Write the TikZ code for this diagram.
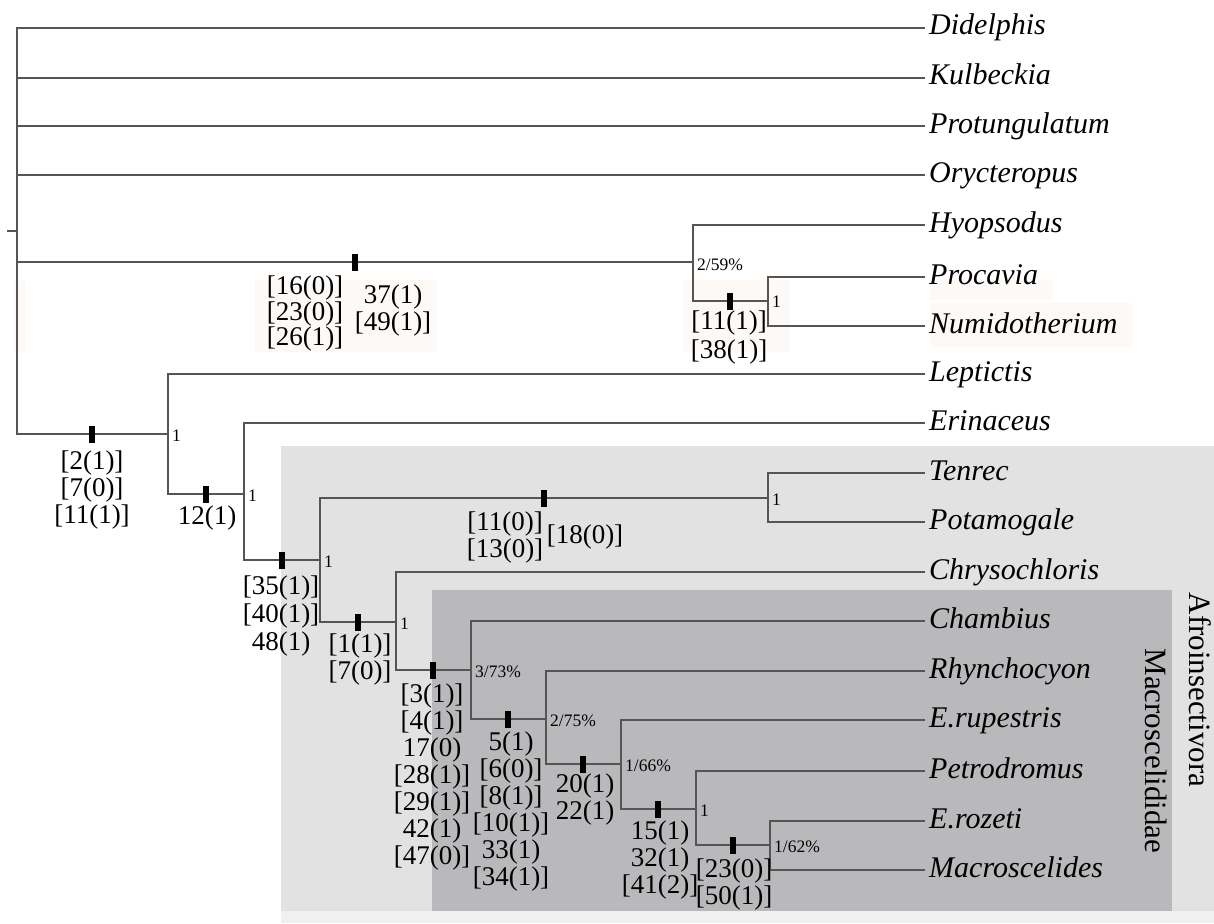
\documentclass[tikz,border=0pt]{standalone}
\usepackage{fontspec}
\setmainfont{Liberation Serif}
\definecolor{linec}{RGB}{85,85,85}
\definecolor{afro}{RGB}{226,226,226}
\definecolor{afrolow}{RGB}{240,240,240}
\definecolor{macro}{RGB}{185,185,187}
\definecolor{hl}{RGB}{253,249,247}
\begin{document}
\begin{tikzpicture}[x=1pt,y=-1pt,
  br/.style={draw=linec, line width=1.4pt},
  mk/.style={fill=black, inner sep=0pt, minimum width=6pt, minimum height=17pt},
  taxon/.style={anchor=west, inner ysep=0pt, inner xsep=4pt, text height=20pt, text depth=6pt, font=\fontsize{30}{30}\selectfont\itshape},
  chr/.style={anchor=north, inner sep=0pt, align=center, font=\fontsize{27}{27}\selectfont},
  sup/.style={anchor=west, inner sep=0pt, font=\fontsize{17.5}{17.5}\selectfont},
  clade/.style={inner sep=0pt, rotate=-90, font=\fontsize{31}{31}\selectfont}]
\useasboundingbox (0,0) rectangle (1214,923);
% backgrounds
\fill[afro] (281,446) rectangle (1214,911);
\fill[afrolow] (281,911) rectangle (1214,923);
\fill[macro] (432,590) rectangle (1172,911);
\fill[hl] (255,280) rectangle (437,352);
\fill[hl] (14,280) rectangle (25,352);
\fill[hl] (683,280) rectangle (790,352);
\fill[hl] (930,280) rectangle (1053,300);
\fill[hl] (930,303) rectangle (1133,347);
% taxa
\node[taxon] (didelphis) at (925,28) {Didelphis};
\node[taxon] (kulbeckia) at (925,78) {Kulbeckia};
\node[taxon] (protungulatum) at (925,126) {Protungulatum};
\node[taxon] (orycteropus) at (925,175) {Orycteropus};
\node[taxon] (hyopsodus) at (925,225) {Hyopsodus};
\node[taxon] (procavia) at (925,277) {Procavia};
\node[taxon] (numidotherium) at (925,326) {Numidotherium};
\node[taxon] (leptictis) at (925,374) {Leptictis};
\node[taxon] (erinaceus) at (925,423) {Erinaceus};
\node[taxon] (tenrec) at (925,473) {Tenrec};
\node[taxon] (potamogale) at (925,522) {Potamogale};
\node[taxon] (chrysochloris) at (925,572) {Chrysochloris};
\node[taxon] (chambius) at (925,621) {Chambius};
\node[taxon] (rhynchocyon) at (925,671) {Rhynchocyon};
\node[taxon] (erupestris) at (925,720) {E.rupestris};
\node[taxon] (petrodromus) at (925,771) {Petrodromus};
\node[taxon] (erozeti) at (925,821) {E.rozeti};
\node[taxon] (macroscelides) at (925,870) {Macroscelides};
% internal nodes
\coordinate (stub) at (7,231);
\coordinate (R) at (17,231);
\coordinate (P1) at (693,262);
\coordinate (P2) at (768,301);
\coordinate (A) at (168,434);
\coordinate (B) at (244,494);
\coordinate (C) at (320,560);
\coordinate (T) at (768,498);
\coordinate (D) at (396,622);
\coordinate (E) at (471,670);
\coordinate (F) at (546,719);
\coordinate (G) at (621,764);
\coordinate (H) at (696,809);
\coordinate (I) at (770,845);
% branches
\draw[br] (stub) -- (R);
\draw[br] (R) |- (didelphis.west);
\draw[br] (R) |- (kulbeckia.west);
\draw[br] (R) |- (protungulatum.west);
\draw[br] (R) |- (orycteropus.west);
\draw[br] (R) |- (P1);
\draw[br] (R) |- (A);
\draw[br] (P1) |- (hyopsodus.west);
\draw[br] (P1) |- (P2);
\draw[br] (P2) |- (procavia.west);
\draw[br] (P2) |- (numidotherium.west);
\draw[br] (A) |- (leptictis.west);
\draw[br] (A) |- (B);
\draw[br] (B) |- (erinaceus.west);
\draw[br] (B) |- (C);
\draw[br] (C) |- (T);
\draw[br] (T) |- (tenrec.west);
\draw[br] (T) |- (potamogale.west);
\draw[br] (C) |- (D);
\draw[br] (D) |- (chrysochloris.west);
\draw[br] (D) |- (E);
\draw[br] (E) |- (chambius.west);
\draw[br] (E) |- (F);
\draw[br] (F) |- (rhynchocyon.west);
\draw[br] (F) |- (G);
\draw[br] (G) |- (erupestris.west);
\draw[br] (G) |- (H);
\draw[br] (H) |- (petrodromus.west);
\draw[br] (H) |- (I);
\draw[br] (I) |- (erozeti.west);
\draw[br] (I) |- (macroscelides.west);
% markers
\node[mk] (m1) at (92,434) {};
\node[mk] (m2) at (355,262) {};
\node[mk] (m3) at (730,301) {};
\node[mk] (m4) at (206,494) {};
\node[mk] (m5) at (282,560) {};
\node[mk] (m6) at (544,498) {};
\node[mk] (m7) at (358,622) {};
\node[mk] (m8) at (433,670) {};
\node[mk] (m9) at (508,719) {};
\node[mk] (m10) at (583,764) {};
\node[mk] (m11) at (658,809) {};
\node[mk] (m12) at (733,845) {};
% character labels
\node[chr] (c1) at (92,451) {[2(1)]\\{}[7(0)]\\{}[11(1)]};
\node[chr, font=\fontsize{27}{25.5}\selectfont] (c2a) at (305,276) {[16(0)]\\{}[23(0)]\\{}[26(1)]};
\node[chr] (c2b) at (393,285) {37(1)\\{}[49(1)]};
\node[chr, font=\fontsize{27}{29}\selectfont] (c3) at (729,311) {[11(1)]\\{}[38(1)]};
\node[chr] (c4) at (207,506) {12(1)};
\node[chr, font=\fontsize{27}{28}\selectfont] (c5) at (281,576) {[35(1)]\\{}[40(1)]\\48(1)};
\node[chr] (c6a) at (505,512) {[11(0)]\\{}[13(0)]};
\node[chr] (c6b) at (585,525) {[18(0)]};
\node[chr] (c7) at (360,634) {[1(1)]\\{}[7(0)]};
\node[chr] (c8) at (432,684) {[3(1)]\\{}[4(1)]\\17(0)\\{}[28(1)]\\{}[29(1)]\\42(1)\\{}[47(0)]};
\node[chr] (c9) at (511,732) {5(1)\\{}[6(0)]\\{}[8(1)]\\{}[10(1)]\\33(1)\\{}[34(1)]};
\node[chr] (c10) at (585,774) {20(1)\\22(1)};
\node[chr] (c11) at (660,821) {15(1)\\32(1)\\{}[41(2)]};
\node[chr] (c12) at (734,859) {[23(0)]\\{}[50(1)]};
% support values
\node[sup] (sP1) at (697,265) {2/59\%};
\node[sup] (sP2) at (772,302) {1};
\node[sup] (sA) at (172,436) {1};
\node[sup] (sB) at (248,496) {1};
\node[sup] (sC) at (324,562) {1};
\node[sup] (sT) at (772,500) {1};
\node[sup] (sD) at (400,624) {1};
\node[sup] (sE) at (475,672) {3/73\%};
\node[sup] (sF) at (550,721) {2/75\%};
\node[sup] (sG) at (625,766) {1/66\%};
\node[sup] (sH) at (700,811) {1};
\node[sup] (sI) at (774,847) {1/62\%};
% clade names
\node[clade] (afroinsectivora) at (1200,690) {Afroinsectivora};
\node[clade] (macroscelididae) at (1156,751) {Macroscelididae};
\end{tikzpicture}
\end{document}
